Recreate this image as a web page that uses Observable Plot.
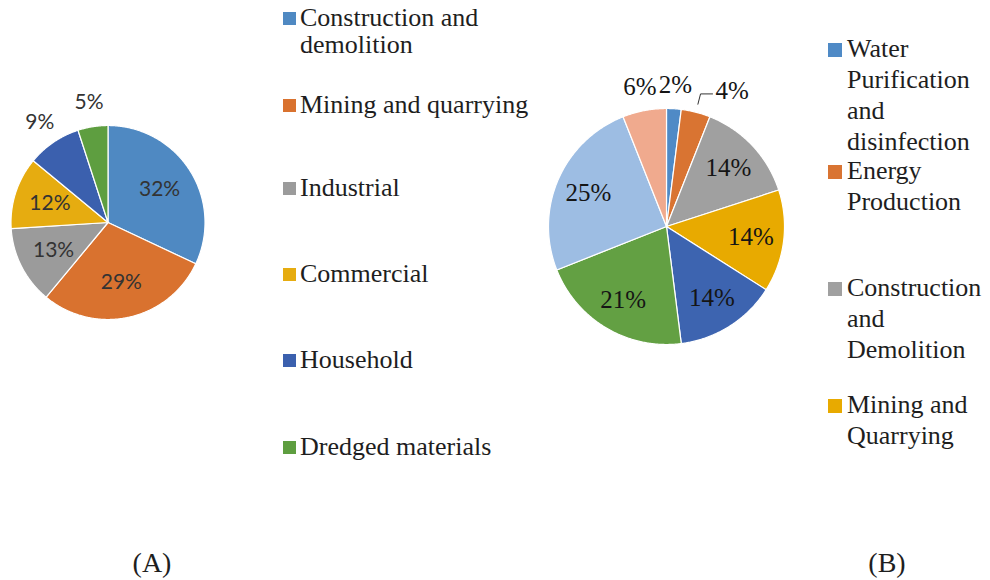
<!DOCTYPE html>
<html><head><meta charset="utf-8">
<script src="https://cdn.jsdelivr.net/npm/d3@7"></script>
<script src="https://cdn.jsdelivr.net/npm/@observablehq/plot@0.6"></script>
<style>
body{margin:0;background:#fff;}
#page{position:relative;width:990px;height:580px;overflow:hidden;font-family:"Liberation Serif","Times New Roman",serif;color:#1e1e1e;}
.panel{position:absolute;top:0;}
.lg-text{position:absolute;font-size:26px;}
.lg-sw{position:absolute;}
.caption{position:absolute;width:200px;text-align:center;font-size:28px;line-height:32px;}
</style></head>
<body><div id="page"></div>
<script>
// ---- data ----
const categoriesA = ["Construction and demolition","Mining and quarrying","Industrial","Commercial","Household","Dredged materials"];
const valuesA = [32,29,13,12,9,5];
const colorsA = ["#4f89c2","#d9722f","#9b9b9b","#e6ac10","#3b60ae","#5e9e40"];

const categoriesB = ["Water Purification and disinfection","Energy Production","Construction and Demolition","Mining and Quarrying","Category 5","Category 6","Category 7","Category 8"];
const valuesB = [2,4,14,14,14,21,25,6];
const colorsB = ["#4f8ac6","#d97432","#a0a0a0","#e8aa00","#3d64b0","#63a043","#9dbde3","#f0aa8e"];
const legendCountB = 4;
const panelLabels = ["(A)","(B)"];

// ---- helpers ----
function slicesOf(categories, values){
  const arcs = d3.pie().sort(null).value(d => d)(values);
  return arcs.map((a,i) => ({cat: categories[i], value: values[i], a0: a.startAngle, a1: a.endAngle, mid: (a.startAngle + a.endAngle) / 2}));
}
function polygonPoints(slices){
  const pts = [];
  for (const s of slices){
    pts.push({cat: s.cat, x: 0, y: 0});
    const n = Math.max(2, Math.ceil((s.a1 - s.a0) / (Math.PI / 360)));
    for (let k = 0; k <= n; k++){
      const t = s.a0 + (s.a1 - s.a0) * k / n;
      pts.push({cat: s.cat, x: Math.sin(t), y: Math.cos(t)});
    }
  }
  return pts;
}
function pieChart(o){
  const slices = slicesOf(o.categories, o.values);
  const pts = polygonPoints(slices);
  const mid = [], side = [], leaderPts = [];
  slices.forEach(s => {
    const text = s.value + "%";
    if (o.leader.includes(s.cat)){
      const p0 = {x: 1.07 * Math.sin(s.mid), y: 1.07 * Math.cos(s.mid)};
      const p1 = {x: 1.16 * Math.sin(s.mid), y: 1.16 * Math.cos(s.mid)};
      const p2 = {x: p1.x + 12 / o.r, y: p1.y};
      leaderPts.push({...p0, cat: s.cat}, {...p1, cat: s.cat}, {...p2, cat: s.cat});
      side.push({x: p2.x + 3 / o.r, y: p1.y + 3 / o.r, text});
    } else {
      const f = s.value < 10 ? o.outer : o.inner;
      mid.push({x: f * Math.sin(s.mid), y: f * Math.cos(s.mid), text});
    }
  });
  return Plot.plot({
    width: o.width, height: o.height, margin: 0,
    style: {background: "transparent", overflow: "visible"},
    x: {domain: [-1, 1], range: [o.cx - o.r, o.cx + o.r], axis: null},
    y: {domain: [-1, 1], range: [o.cy + o.r, o.cy - o.r], axis: null},
    color: {domain: o.categories, range: o.colors},
    marks: [
      Plot.line(pts, {x: "x", y: "y", z: "cat", fill: "cat", stroke: "white", strokeWidth: 1.2, curve: "linear-closed"}),
      Plot.line(leaderPts, {x: "x", y: "y", z: "cat", stroke: "#333", strokeWidth: 1}),
      Plot.text(mid, {x: "x", y: "y", text: "text", fontSize: o.fontSize, fontFamily: o.font, fill: o.textFill}),
      Plot.text(side, {x: "x", y: "y", text: "text", textAnchor: "start", fontSize: o.fontSize, fontFamily: o.font, fill: o.textFill})
    ]
  });
}
function legend(page, cats, colors, o){
  cats.forEach((c, i) => {
    const base = o.baselines[i];
    const sw = document.createElement("div");
    sw.className = "lg-sw";
    Object.assign(sw.style, {left: o.swX + "px", top: (base - 14) + "px", width: o.sw + "px", height: o.sw + "px", background: colors[i]});
    page.appendChild(sw);
    const t = document.createElement("div");
    t.className = "lg-text";
    t.textContent = c;
    Object.assign(t.style, {left: o.textX + "px", top: (base - o.baseOff) + "px", width: o.w + "px", lineHeight: o.lh + "px"});
    page.appendChild(t);
  });
}

// ---- layout ----
const page = document.getElementById("page");

const panelA = document.createElement("div");
panelA.className = "panel"; panelA.style.left = "0px";
panelA.appendChild(pieChart({categories: categoriesA, values: valuesA, colors: colorsA,
  width: 270, height: 540, cx: 107.5, cy: 222, r: 97, inner: 0.63, outer: 1.25, leader: [],
  font: "Lato, 'Open Sans', sans-serif", fontSize: 21, textFill: "#333"}));
page.appendChild(panelA);

const panelB = document.createElement("div");
panelB.className = "panel"; panelB.style.left = "520px";
panelB.appendChild(pieChart({categories: categoriesB, values: valuesB, colors: colorsB,
  width: 300, height: 540, cx: 146, cy: 226, r: 118, inner: 0.72, outer: 1.2, leader: ["Energy Production"],
  font: "'Liberation Serif', 'Times New Roman', serif", fontSize: 25, textFill: "#151515"}));
page.appendChild(panelB);

legend(page, categoriesA, colorsA, {baselines: [26, 113, 196, 282, 368, 455], swX: 283, sw: 13, textX: 300, w: 240, lh: 27, baseOff: 22.3});
legend(page, categoriesB.slice(0, legendCountB), colorsB, {baselines: [57, 179, 296, 413], swX: 828, sw: 14, textX: 847, w: 143, lh: 31, baseOff: 24.3});

[[152, panelLabels[0]], [887, panelLabels[1]]].forEach(([cx, txt]) => {
  const d = document.createElement("div");
  d.className = "caption";
  d.textContent = txt;
  d.style.left = (cx - 100) + "px";
  d.style.top = (572 - 25.4) + "px";
  page.appendChild(d);
});
</script>
</body></html>
